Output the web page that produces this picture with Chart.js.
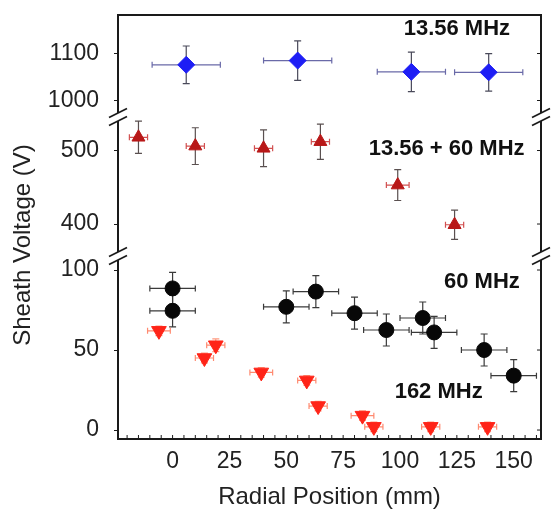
<!DOCTYPE html>
<html>
<head>
<meta charset="utf-8">
<script src="https://cdn.jsdelivr.net/npm/chart.js@4/dist/chart.umd.min.js"></script>
<style>
  html, body { margin: 0; padding: 0; background: #fff; }
  #wrap { width: 552px; height: 509px; }
</style>
</head>
<body>
<div id="wrap"><canvas id="myChart"></canvas></div>
<script>
// ------------ data ---------------------------------

const seriesNames = ['13.56 MHz', '13.56 + 60 MHz', '60 MHz', '162 MHz'];

// 13.56 MHz (blue diamonds)
const posA = [6, 55, 105, 139];
const voltA = [1076, 1085, 1061, 1060];
const posErrA = [15, 15, 15, 15];
const voltErrA = [40, 42, 42, 40];

// 13.56 + 60 MHz (dark red triangles)
const posB = [-15, 10, 40, 65, 99, 124];
const voltB = [518, 506, 503, 512, 453, 399];
const posErrB = [4, 4, 4, 4, 5, 4];
const voltErrB = [22, 25, 25, 24, 21, 20];

// 60 MHz (black circles)
const posC = [0, 0, 50, 63, 80, 94, 110, 115, 137, 150];
const voltC = [88.5, 74.5, 77, 86.5, 73, 62.5, 70, 61, 50, 34];
const posErrC = [10, 10, 10, 10, 10, 10, 10, 10, 10, 10];
const voltErrC = [10, 10, 10, 10, 10, 10, 10, 10, 10, 10];

// 162 MHz (red down triangles)
const posD = [-6, 14, 19, 39, 59, 64, 83.5, 88.5, 113.5, 138.5];
const voltD = [62, 45, 53, 36, 31, 15, 9, 2, 2, 2];
const posErrD = [5, 4, 4, 5, 4, 4, 5, 4, 4, 4];
const voltErrD = [3, 3, 4, 3, 3, 3, 3, 3, 3, 3];

// tick labels
const xTickLabels = [0, 25, 50, 75, 100, 125, 150];
const yTicksTop = [1000, 1100];
const yTicksMid = [400, 500];
const yTicksBot = [0, 50, 100];

// ------------ chart -------------

const FONT = '"Liberation Sans", Arial, sans-serif';

const series = [
  {x: posA, y: voltA, xe: posErrA, ye: voltErrA, axis: 'yTop', style: 'rectRot', r: 8.5, rot: 0, fill: '#1e1ef5', xc: '#6a6aa8', yc: '#4a4a5a'},
  {x: posB, y: voltB, xe: posErrB, ye: voltErrB, axis: 'yMid', style: 'triangle', r: 7.5, rot: 0, fill: '#b81818', xc: '#d25050', yc: '#5a5050'},
  {x: posC, y: voltC, xe: posErrC, ye: voltErrC, axis: 'yBot', style: 'circle', r: 7.5, rot: 0, fill: '#080808', xc: '#3a3a3a', yc: '#3a3a3a'},
  {x: posD, y: voltD, xe: posErrD, ye: voltErrD, axis: 'yBot', style: 'triangle', r: 8.5, rot: 180, fill: '#ff2418', xc: '#ff8a70', yc: '#ff9a80'}
];

// where the series names sit (in data units of each segment)
const notes = [
  {text: seriesNames[0], x: 125, axis: 'yTop', y: 1152},
  {text: seriesNames[1], x: 120.5, axis: 'yMid', y: 502},
  {text: seriesNames[2], x: 136, axis: 'yBot', y: 92.5},
  {text: seriesNames[3], x: 117, axis: 'yBot', y: 24}
];

const brokenAxis = {
  id: 'brokenAxis',
  beforeDatasetsDraw(chart) {
    const c = chart.ctx, xs = chart.scales.x;
    c.save();
    c.lineWidth = 1.2;
    series.forEach(s => {
      const ys = chart.scales[s.axis];
      s.x.forEach((xv, i) => {
        const px = xs.getPixelForValue(xv), py = ys.getPixelForValue(s.y[i]);
        const x0 = xs.getPixelForValue(xv - s.xe[i]), x1 = xs.getPixelForValue(xv + s.xe[i]);
        const y0 = ys.getPixelForValue(s.y[i] - s.ye[i]), y1 = ys.getPixelForValue(s.y[i] + s.ye[i]);
        c.strokeStyle = s.xc;
        c.beginPath();
        c.moveTo(x0, py); c.lineTo(x1, py);
        c.moveTo(x0, py - 3); c.lineTo(x0, py + 3);
        c.moveTo(x1, py - 3); c.lineTo(x1, py + 3);
        c.stroke();
        c.strokeStyle = s.yc;
        c.beginPath();
        c.moveTo(px, y0); c.lineTo(px, y1);
        c.moveTo(px - 3.5, y0); c.lineTo(px + 3.5, y0);
        c.moveTo(px - 3.5, y1); c.lineTo(px + 3.5, y1);
        c.stroke();
      });
    });
    c.restore();
  },
  afterDraw(chart) {
    const c = chart.ctx, a = chart.chartArea;
    const segs = [chart.scales.yTop, chart.scales.yMid, chart.scales.yBot];
    c.save();
    c.strokeStyle = '#1a1a1a';
    c.lineWidth = 2;
    // top edge
    c.beginPath(); c.moveTo(a.left - 1, a.top); c.lineTo(a.right + 1, a.top); c.stroke();
    // side lines, split at the breaks
    const gap = 4;
    segs.forEach((s, k) => {
      const t = k === 0 ? a.top : s.top + gap;
      const b = k === segs.length - 1 ? a.bottom : s.bottom - gap;
      [a.left, a.right].forEach(x => {
        c.beginPath(); c.moveTo(x, t); c.lineTo(x, b); c.stroke();
      });
    });
    // break marks
    c.lineWidth = 1.6;
    [segs[0].bottom, segs[1].bottom].forEach(yb => {
      [a.left, a.right].forEach(x => {
        [-4, 4].forEach(d => {
          c.beginPath(); c.moveTo(x - 9, yb + d + 4.5); c.lineTo(x + 9, yb + d - 4.5); c.stroke();
        });
      });
    });
    // inner ticks on the right and along the bottom
    c.lineWidth = 1;
    segs.forEach(s => s.ticks.forEach(t => {
      const y = s.getPixelForValue(t.value);
      c.beginPath(); c.moveTo(a.right, y); c.lineTo(a.right - 4, y); c.stroke();
    }));
    const xs = chart.scales.x;
    xs.ticks.forEach(t => {
      const x = xs.getPixelForValue(t.value);
      c.beginPath(); c.moveTo(x, a.bottom); c.lineTo(x, a.bottom - 4); c.stroke();
    });
    // series names
    c.fillStyle = '#111';
    c.font = 'bold 22px ' + FONT;
    c.textAlign = 'center';
    c.textBaseline = 'middle';
    notes.forEach(n => {
      c.fillText(n.text, xs.getPixelForValue(n.x), chart.scales[n.axis].getPixelForValue(n.y));
    });
    // y title (spans the broken axis, so drawn by hand)
    c.fillStyle = '#222';
    c.font = '24px ' + FONT;
    c.translate(23, 245);
    c.rotate(-Math.PI / 2);
    c.fillText('Sheath Voltage (V)', 0, 0);
    c.restore();
  }
};

function yAxis(min, max, weight, order, tickVals) {
  return {
    type: 'linear', position: 'left', stack: 'v', stackWeight: weight, weight: order,
    min: min, max: max,
    afterBuildTicks: s => { s.ticks = tickVals.map(v => ({value: v})); },
    ticks: {padding: 15, color: '#222', font: {size: 23, family: FONT}, callback: v => String(v)},
    grid: {display: true, drawOnChartArea: false, drawTicks: true, tickLength: 4, color: '#1a1a1a', lineWidth: 1},
    border: {display: false},
    afterFit: s => { s.width = 118; s.paddingTop = 0; s.paddingBottom = 0; }
  };
}

const data = {
  datasets: series.map((s, k) => ({
    label: seriesNames[k],
    data: s.x.map((v, i) => ({x: v, y: s.y[i]})),
    yAxisID: s.axis,
    pointStyle: s.style,
    pointRadius: s.r,
    pointRotation: s.rot,
    backgroundColor: s.fill,
    borderColor: s.fill,
    borderWidth: 1,
    showLine: false
  }))
};

const config = {
  type: 'scatter',
  data: data,
  options: {
    responsive: true,
    maintainAspectRatio: false,
    animation: false,
    events: [],
    layout: {padding: {top: 15, right: 11, left: 0, bottom: 0}},
    plugins: {legend: {display: false}, tooltip: {enabled: false}},
    scales: {
      x: {
        type: 'linear', position: 'bottom', min: -24, max: 162,
        ticks: {
          stepSize: 5, autoSkip: false, maxRotation: 0, includeBounds: false, padding: 9,
          color: '#222', font: {size: 23, family: FONT},
          callback: v => xTickLabels.includes(v) ? String(v) : ''
        },
        grid: {display: false, drawTicks: false},
        border: {display: true, color: '#1a1a1a', width: 2},
        title: {display: true, text: 'Radial Position (mm)', color: '#222', font: {size: 24, family: FONT, lineHeight: 1}, padding: 0},
        afterFit: s => { s.height = 70; s.paddingLeft = 0; s.paddingRight = 0; }
      },
      yBot: yAxis(-5.6, 108.75, 183, 1, yTicksBot),
      yMid: yAxis(356.5, 545.6, 139, 2, yTicksMid),
      yTop: yAxis(964.9, 1182, 102, 3, yTicksTop)
    }
  },
  plugins: [brokenAxis]
};

var myChart = new Chart(document.getElementById('myChart'), config);
</script>
</body>
</html>
